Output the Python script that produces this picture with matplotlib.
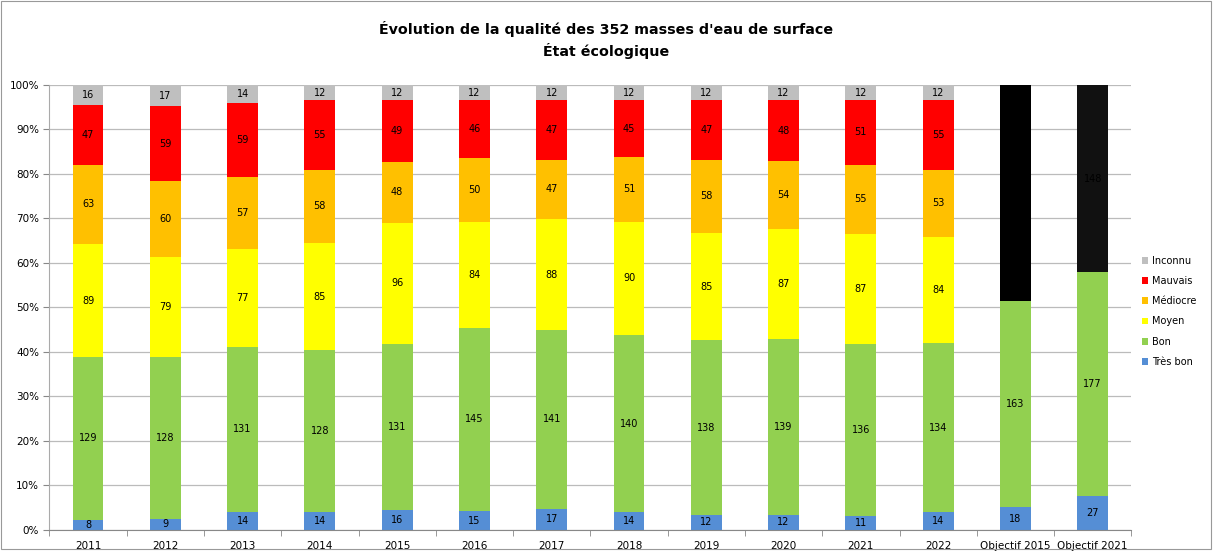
import matplotlib
matplotlib.use("Agg")
import matplotlib.pyplot as plt
import numpy as np
from matplotlib.patches import Rectangle

total = 352
years = ['2011', '2012', '2013', '2014', '2015', '2016', '2017', '2018', '2019', '2020',
         '2021', '2022', 'Objectif 2015', 'Objectif 2021']

tres_bon = [8, 9, 14, 14, 16, 15, 17, 14, 12, 12, 11, 14, 18, 27]
bon = [129, 128, 131, 128, 131, 145, 141, 140, 138, 139, 136, 134, 163, 177]
moyen = [89, 79, 77, 85, 96, 84, 88, 90, 85, 87, 87, 84, 0, 0]
mediocre = [63, 60, 57, 58, 48, 50, 47, 51, 58, 54, 55, 53, 0, 0]
mauvais = [47, 59, 59, 55, 49, 46, 47, 45, 47, 48, 51, 55, 0, 0]
inconnu = [16, 17, 14, 12, 12, 12, 12, 12, 12, 12, 12, 12, 0, 0]
reste = [0, 0, 0, 0, 0, 0, 0, 0, 0, 0, 0, 0, 171, 148]
reste_colors = ['#000000'] * 13 + ['#111111']

series = [
    ('Très bon', tres_bon, '#558ED5'),
    ('Bon', bon, '#92D050'),
    ('Moyen', moyen, '#FFFF00'),
    ('Médiocre', mediocre, '#FFC000'),
    ('Mauvais', mauvais, '#FF0000'),
    ('Inconnu', inconnu, '#BFBFBF'),
    (None, reste, reste_colors),
]

fig = plt.figure(figsize=(12.13, 5.53), dpi=100)
ax = fig.add_axes([0.0407, 0.0416, 0.892, 0.8047])

x = np.arange(len(years))
bottom = np.zeros(len(years))
handles = []
for name, vals, col in series:
    pct = np.array(vals) / total * 100
    b = ax.bar(x, pct, 0.40, bottom=bottom, color=col, zorder=2)
    if name:
        handles.append((b, name))
    for i, v in enumerate(vals):
        if v > 0:
            ax.text(x[i], bottom[i] + pct[i] / 2, str(v), ha='center', va='center',
                    fontsize=7, color='black', zorder=3)
    bottom += pct

ax.set_ylim(0, 100)
ax.set_xlim(-0.5, len(years) - 0.5)
ax.set_yticks(np.arange(0, 101, 10))
ax.set_yticklabels([f'{t}%' for t in range(0, 101, 10)], fontsize=7.5)
ax.set_xticks(x)
ax.set_xticklabels(years, fontsize=7.5)
ax.set_xticks(np.arange(-0.5, len(years), 1), minor=True)
ax.tick_params(axis='x', which='major', length=0, pad=8)
ax.tick_params(axis='x', which='minor', length=4, color='#888888')
ax.tick_params(axis='y', length=4, color='#888888')
ax.grid(axis='y', color='#BBBBBB', linewidth=0.9, zorder=0)
for s in ['top', 'right']:
    ax.spines[s].set_visible(False)
ax.spines['left'].set_color('#AAAAAA')
ax.spines['bottom'].set_color('#888888')

hs = [h for h, n in handles][::-1]
ns = [n for h, n in handles][::-1]
fig.legend(hs, ns, loc='center left', bbox_to_anchor=(0.934, 0.437), frameon=False,
           fontsize=7, handlelength=0.7, handleheight=0.7, handletextpad=0.4, labelspacing=1.05)

fig.text(0.5, 0.948, "Évolution de la qualité des 352 masses d'eau de surface", ha='center',
         va='center', fontsize=10.3, fontweight='bold')
fig.text(0.5, 0.908, "État écologique", ha='center', va='center', fontsize=10.3, fontweight='bold')

fig.patches.append(Rectangle((0.001, 0.008), 0.997, 0.99, transform=fig.transFigure,
                             fill=False, edgecolor='#999999', linewidth=0.8))

fig.savefig('out.png', dpi=100)
